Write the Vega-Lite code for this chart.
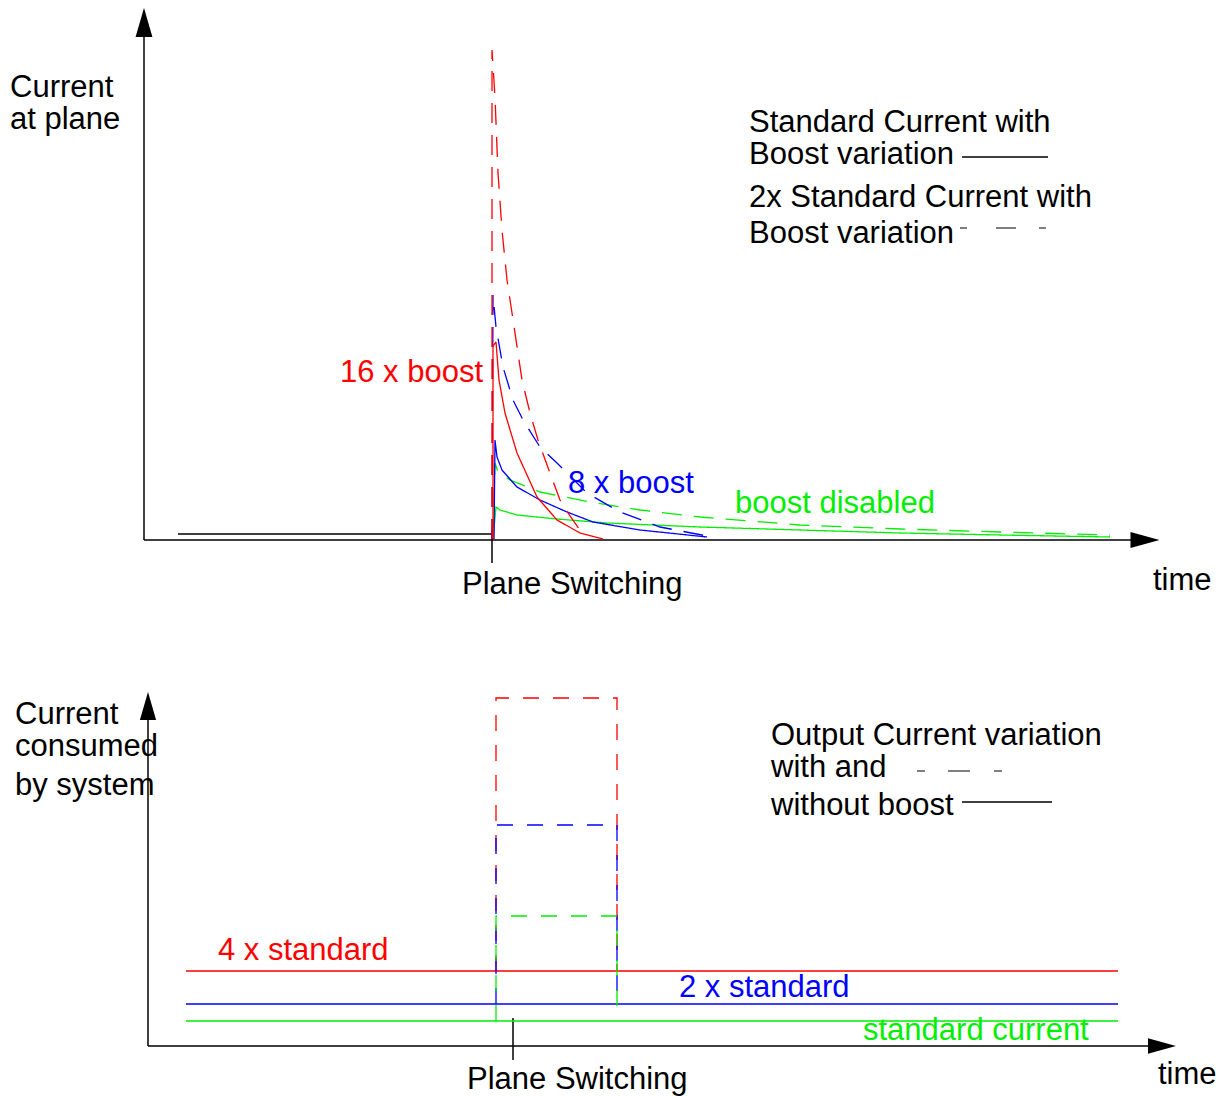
{
  "$schema": "https://vega.github.io/schema/vega-lite/v6.json",
  "padding": 0,
  "spacing": 0,
  "bounds": "flush",
  "config": {"view": {"stroke": null}, "font": "Liberation Sans"},
  "datasets": {
    "topBlack": [
      {"seg": "yaxis", "k": 0, "t": -348, "i": 0}, {"seg": "yaxis", "k": 1, "t": -348, "i": 510},
      {"seg": "xaxis", "k": 0, "t": -348, "i": 0}, {"seg": "xaxis", "k": 1, "t": 643, "i": 0},
      {"seg": "before", "k": 0, "t": -314, "i": 6}, {"seg": "before", "k": 1, "t": 0, "i": 6},
      {"seg": "tick", "k": 0, "t": 0, "i": 10}, {"seg": "tick", "k": 1, "t": 0, "i": -23},
      {"seg": "legend", "k": 0, "t": 470, "i": 383}, {"seg": "legend", "k": 1, "t": 556, "i": 383}
    ],
    "topLegendDash": [
      {"k": 0, "t": 468, "i": 312}, {"k": 1, "t": 554, "i": 312}
    ],
    "topCurves": [
      {"seg": "gd", "series": "boost disabled", "mode": "2x standard current", "k": 0, "t": 1, "i": 1},
      {"seg": "gd", "series": "boost disabled", "mode": "2x standard current", "k": 1, "t": 3, "i": 77},
      {"seg": "gd", "series": "boost disabled", "mode": "2x standard current", "k": 2, "t": 6, "i": 68},
      {"seg": "gd", "series": "boost disabled", "mode": "2x standard current", "k": 3, "t": 18, "i": 60},
      {"seg": "gd", "series": "boost disabled", "mode": "2x standard current", "k": 4, "t": 48, "i": 48},
      {"seg": "gd", "series": "boost disabled", "mode": "2x standard current", "k": 5, "t": 98, "i": 38},
      {"seg": "gd", "series": "boost disabled", "mode": "2x standard current", "k": 6, "t": 148, "i": 30},
      {"seg": "gd", "series": "boost disabled", "mode": "2x standard current", "k": 7, "t": 208, "i": 23},
      {"seg": "gd", "series": "boost disabled", "mode": "2x standard current", "k": 8, "t": 308, "i": 15},
      {"seg": "gd", "series": "boost disabled", "mode": "2x standard current", "k": 9, "t": 408, "i": 11},
      {"seg": "gd", "series": "boost disabled", "mode": "2x standard current", "k": 10, "t": 508, "i": 8},
      {"seg": "gd", "series": "boost disabled", "mode": "2x standard current", "k": 11, "t": 618, "i": 5},
      {"seg": "gs", "series": "boost disabled", "mode": "standard current", "k": 0, "t": 1, "i": 1},
      {"seg": "gs", "series": "boost disabled", "mode": "standard current", "k": 1, "t": 4, "i": 33},
      {"seg": "gs", "series": "boost disabled", "mode": "standard current", "k": 2, "t": 8, "i": 30},
      {"seg": "gs", "series": "boost disabled", "mode": "standard current", "k": 3, "t": 25, "i": 25},
      {"seg": "gs", "series": "boost disabled", "mode": "standard current", "k": 4, "t": 65, "i": 21},
      {"seg": "gs", "series": "boost disabled", "mode": "standard current", "k": 5, "t": 115, "i": 17},
      {"seg": "gs", "series": "boost disabled", "mode": "standard current", "k": 6, "t": 208, "i": 13},
      {"seg": "gs", "series": "boost disabled", "mode": "standard current", "k": 7, "t": 308, "i": 10},
      {"seg": "gs", "series": "boost disabled", "mode": "standard current", "k": 8, "t": 408, "i": 7},
      {"seg": "gs", "series": "boost disabled", "mode": "standard current", "k": 9, "t": 508, "i": 5},
      {"seg": "gs", "series": "boost disabled", "mode": "standard current", "k": 10, "t": 618, "i": 3},
      {"seg": "bd", "series": "8x boost", "mode": "2x standard current", "k": 0, "t": 0, "i": 1},
      {"seg": "bd", "series": "8x boost", "mode": "2x standard current", "k": 1, "t": 1, "i": 245},
      {"seg": "bd", "series": "8x boost", "mode": "2x standard current", "k": 2, "t": 4, "i": 213},
      {"seg": "bd", "series": "8x boost", "mode": "2x standard current", "k": 3, "t": 11, "i": 173},
      {"seg": "bd", "series": "8x boost", "mode": "2x standard current", "k": 4, "t": 21, "i": 140},
      {"seg": "bd", "series": "8x boost", "mode": "2x standard current", "k": 5, "t": 31, "i": 120},
      {"seg": "bd", "series": "8x boost", "mode": "2x standard current", "k": 6, "t": 48, "i": 93},
      {"seg": "bd", "series": "8x boost", "mode": "2x standard current", "k": 7, "t": 65, "i": 77},
      {"seg": "bd", "series": "8x boost", "mode": "2x standard current", "k": 8, "t": 95, "i": 47},
      {"seg": "bd", "series": "8x boost", "mode": "2x standard current", "k": 9, "t": 128, "i": 28},
      {"seg": "bd", "series": "8x boost", "mode": "2x standard current", "k": 10, "t": 168, "i": 13},
      {"seg": "bd", "series": "8x boost", "mode": "2x standard current", "k": 11, "t": 215, "i": 4},
      {"seg": "bs", "series": "8x boost", "mode": "standard current", "k": 0, "t": 2, "i": 1},
      {"seg": "bs", "series": "8x boost", "mode": "standard current", "k": 1, "t": 3, "i": 100},
      {"seg": "bs", "series": "8x boost", "mode": "standard current", "k": 2, "t": 5, "i": 83},
      {"seg": "bs", "series": "8x boost", "mode": "standard current", "k": 3, "t": 10, "i": 70},
      {"seg": "bs", "series": "8x boost", "mode": "standard current", "k": 4, "t": 25, "i": 53},
      {"seg": "bs", "series": "8x boost", "mode": "standard current", "k": 5, "t": 48, "i": 40},
      {"seg": "bs", "series": "8x boost", "mode": "standard current", "k": 6, "t": 75, "i": 28},
      {"seg": "bs", "series": "8x boost", "mode": "standard current", "k": 7, "t": 101, "i": 18},
      {"seg": "bs", "series": "8x boost", "mode": "standard current", "k": 8, "t": 148, "i": 10},
      {"seg": "bs", "series": "8x boost", "mode": "standard current", "k": 9, "t": 215, "i": 3},
      {"seg": "rd", "series": "16x boost", "mode": "2x standard current", "k": 0, "t": 0, "i": 1},
      {"seg": "rd", "series": "16x boost", "mode": "2x standard current", "k": 1, "t": 0, "i": 490},
      {"seg": "rd", "series": "16x boost", "mode": "2x standard current", "k": 2, "t": 3, "i": 443},
      {"seg": "rd", "series": "16x boost", "mode": "2x standard current", "k": 3, "t": 6, "i": 367},
      {"seg": "rd", "series": "16x boost", "mode": "2x standard current", "k": 4, "t": 10, "i": 310},
      {"seg": "rd", "series": "16x boost", "mode": "2x standard current", "k": 5, "t": 15, "i": 260},
      {"seg": "rd", "series": "16x boost", "mode": "2x standard current", "k": 6, "t": 20, "i": 227},
      {"seg": "rd", "series": "16x boost", "mode": "2x standard current", "k": 7, "t": 30, "i": 160},
      {"seg": "rd", "series": "16x boost", "mode": "2x standard current", "k": 8, "t": 38, "i": 127},
      {"seg": "rd", "series": "16x boost", "mode": "2x standard current", "k": 9, "t": 46, "i": 100},
      {"seg": "rd", "series": "16x boost", "mode": "2x standard current", "k": 10, "t": 58, "i": 67},
      {"seg": "rd", "series": "16x boost", "mode": "2x standard current", "k": 11, "t": 68, "i": 40},
      {"seg": "rd", "series": "16x boost", "mode": "2x standard current", "k": 12, "t": 78, "i": 24},
      {"seg": "rd", "series": "16x boost", "mode": "2x standard current", "k": 13, "t": 88, "i": 10},
      {"seg": "rs", "series": "16x boost", "mode": "standard current", "k": 0, "t": 1, "i": 1},
      {"seg": "rs", "series": "16x boost", "mode": "standard current", "k": 1, "t": 1, "i": 194},
      {"seg": "rs", "series": "16x boost", "mode": "standard current", "k": 2, "t": 4, "i": 198},
      {"seg": "rs", "series": "16x boost", "mode": "standard current", "k": 3, "t": 5, "i": 185},
      {"seg": "rs", "series": "16x boost", "mode": "standard current", "k": 4, "t": 7, "i": 160},
      {"seg": "rs", "series": "16x boost", "mode": "standard current", "k": 5, "t": 13, "i": 127},
      {"seg": "rs", "series": "16x boost", "mode": "standard current", "k": 6, "t": 25, "i": 87},
      {"seg": "rs", "series": "16x boost", "mode": "standard current", "k": 7, "t": 45, "i": 43},
      {"seg": "rs", "series": "16x boost", "mode": "standard current", "k": 8, "t": 65, "i": 20},
      {"seg": "rs", "series": "16x boost", "mode": "standard current", "k": 9, "t": 88, "i": 7},
      {"seg": "rs", "series": "16x boost", "mode": "standard current", "k": 10, "t": 111, "i": 1}
    ],
    "topArrows": [
      {"t": -348, "i": 517.5, "dir": "up"},
      {"t": 653, "i": 0, "dir": "right"}
    ],
    "topText": [
      {"text": "Current", "t": -482, "i": 443, "series": "annotation"},
      {"text": "at plane", "t": -482, "i": 411, "series": "annotation"},
      {"text": "Standard Current with", "t": 257, "i": 408, "series": "annotation"},
      {"text": "Boost variation", "t": 257, "i": 376, "series": "annotation"},
      {"text": "2x Standard Current with", "t": 257, "i": 333, "series": "annotation"},
      {"text": "Boost variation", "t": 257, "i": 297, "series": "annotation"},
      {"text": "16 x boost", "t": -152, "i": 158, "series": "16x boost"},
      {"text": "8 x boost", "t": 76, "i": 47, "series": "8x boost"},
      {"text": "boost disabled", "t": 243, "i": 27, "series": "boost disabled"},
      {"text": "Plane Switching", "t": -30, "i": -54, "series": "annotation"},
      {"text": "time", "t": 661, "i": -50, "series": "annotation"}
    ],
    "botBlack": [
      {"seg": "yaxis", "k": 0, "t": -344, "i": 0}, {"seg": "yaxis", "k": 1, "t": -344, "i": 334},
      {"seg": "xaxis", "k": 0, "t": -344, "i": 0}, {"seg": "xaxis", "k": 1, "t": 658, "i": 0},
      {"seg": "tick", "k": 0, "t": 21, "i": 28}, {"seg": "tick", "k": 1, "t": 21, "i": -14},
      {"seg": "legend", "k": 0, "t": 470, "i": 244}, {"seg": "legend", "k": 1, "t": 560, "i": 244}
    ],
    "botLegendDash": [
      {"k": 0, "t": 425, "i": 275}, {"k": 1, "t": 511, "i": 275}
    ],
    "botLines": [
      {"seg": "rs", "series": "4x standard", "mode": "without boost", "k": 0, "t": -306, "i": 75},
      {"seg": "rs", "series": "4x standard", "mode": "without boost", "k": 1, "t": 626, "i": 75},
      {"seg": "bs", "series": "2x standard", "mode": "without boost", "k": 0, "t": -306, "i": 42},
      {"seg": "bs", "series": "2x standard", "mode": "without boost", "k": 1, "t": 626, "i": 42},
      {"seg": "gs", "series": "standard", "mode": "without boost", "k": 0, "t": -306, "i": 25},
      {"seg": "gs", "series": "standard", "mode": "without boost", "k": 1, "t": 626, "i": 25},
      {"seg": "rd", "series": "4x standard", "mode": "with boost", "k": 0, "t": 4, "i": 75},
      {"seg": "rd", "series": "4x standard", "mode": "with boost", "k": 1, "t": 4, "i": 348},
      {"seg": "rd", "series": "4x standard", "mode": "with boost", "k": 2, "t": 125, "i": 348},
      {"seg": "rd", "series": "4x standard", "mode": "with boost", "k": 3, "t": 125, "i": 75},
      {"seg": "bd", "series": "2x standard", "mode": "with boost", "k": 0, "t": 4, "i": 42},
      {"seg": "bd", "series": "2x standard", "mode": "with boost", "k": 1, "t": 4, "i": 221},
      {"seg": "bd", "series": "2x standard", "mode": "with boost", "k": 2, "t": 125, "i": 221},
      {"seg": "bd", "series": "2x standard", "mode": "with boost", "k": 3, "t": 125, "i": 42},
      {"seg": "gd", "series": "standard", "mode": "with boost", "k": 0, "t": 4, "i": 25},
      {"seg": "gd", "series": "standard", "mode": "with boost", "k": 1, "t": 4, "i": 130},
      {"seg": "gd", "series": "standard", "mode": "with boost", "k": 2, "t": 125, "i": 130},
      {"seg": "gd", "series": "standard", "mode": "with boost", "k": 3, "t": 125, "i": 34}
    ],
    "botArrows": [
      {"t": -344, "i": 340, "dir": "up"},
      {"t": 670, "i": 0, "dir": "right"}
    ],
    "botText": [
      {"text": "Current", "t": -477, "i": 322, "series": "annotation"},
      {"text": "consumed", "t": -477, "i": 290, "series": "annotation"},
      {"text": "by system", "t": -477, "i": 251, "series": "annotation"},
      {"text": "Output Current variation", "t": 279, "i": 301, "series": "annotation"},
      {"text": "with and", "t": 279, "i": 269, "series": "annotation"},
      {"text": "without boost", "t": 279, "i": 231, "series": "annotation"},
      {"text": "4 x standard", "t": -274, "i": 86, "series": "4x standard"},
      {"text": "2 x standard", "t": 187, "i": 49, "series": "2x standard"},
      {"text": "standard current", "t": 371, "i": 6, "series": "standard"},
      {"text": "Plane Switching", "t": -25, "i": -43, "series": "annotation"},
      {"text": "time", "t": 666, "i": -38, "series": "annotation"}
    ]
  },
  "vconcat": [
    {
      "width": 1220,
      "height": 600,
      "encoding": {
        "x": {"field": "t", "type": "quantitative", "scale": {"domain": [-492, 728], "nice": false, "zero": false}, "axis": null},
        "y": {"field": "i", "type": "quantitative", "scale": {"domain": [-60, 540], "nice": false, "zero": false}, "axis": null}
      },
      "layer": [
        {
          "data": {"name": "topBlack"},
          "mark": {"type": "line", "color": "#000000", "strokeWidth": 1.5},
          "encoding": {"detail": {"field": "seg"}, "order": {"field": "k"}}
        },
        {
          "data": {"name": "topLegendDash"},
          "mark": {"type": "line", "color": "#000000", "strokeWidth": 1.2, "strokeDash": [7, 29, 20, 23]},
          "encoding": {"order": {"field": "k"}}
        },
        {
          "data": {"name": "topCurves"},
          "mark": {"type": "line", "strokeWidth": 1.3},
          "encoding": {
            "detail": {"field": "seg"},
            "order": {"field": "k"},
            "color": {"field": "series", "type": "nominal", "legend": null,
              "scale": {"domain": ["16x boost", "8x boost", "boost disabled", "4x standard", "2x standard", "standard", "annotation"],
                        "range": ["#ff0000", "#0000ff", "#00ee00", "#ff0000", "#0000ff", "#00ee00", "#000000"]}},
            "strokeDash": {"field": "mode", "type": "nominal", "legend": null,
              "scale": {"domain": ["standard current", "2x standard current", "without boost", "with boost"],
                        "range": [[1, 0], [20, 12], [1, 0], [16, 14]]}}
          }
        },
        {
          "data": {"name": "topArrows"},
          "mark": {"type": "point", "filled": true, "color": "#000000", "opacity": 1, "strokeWidth": 0, "size": 841},
          "encoding": {
            "shape": {"field": "dir", "type": "nominal", "legend": null,
              "scale": {"domain": ["up", "right"], "range": ["M0,-1L0.58,1L-0.58,1Z", "M1,0L-1,-0.55L-1,0.55Z"]}}
          }
        },
        {
          "data": {"name": "topText"},
          "mark": {"type": "text", "align": "left", "baseline": "alphabetic", "fontSize": 31, "font": "Liberation Sans"},
          "encoding": {
            "text": {"field": "text"},
            "color": {"field": "series", "type": "nominal", "legend": null,
              "scale": {"domain": ["16x boost", "8x boost", "boost disabled", "4x standard", "2x standard", "standard", "annotation"],
                        "range": ["#ff0000", "#0000ff", "#00ee00", "#ff0000", "#0000ff", "#00ee00", "#000000"]}}
          }
        }
      ]
    },
    {
      "width": 1220,
      "height": 496,
      "encoding": {
        "x": {"field": "t", "type": "quantitative", "scale": {"domain": [-492, 728], "nice": false, "zero": false}, "axis": null},
        "y": {"field": "i", "type": "quantitative", "scale": {"domain": [-50, 446], "nice": false, "zero": false}, "axis": null}
      },
      "resolve": {"scale": {"y": "independent"}},
      "layer": [
        {
          "data": {"name": "botBlack"},
          "mark": {"type": "line", "color": "#000000", "strokeWidth": 1.5},
          "encoding": {"detail": {"field": "seg"}, "order": {"field": "k"}}
        },
        {
          "data": {"name": "botLegendDash"},
          "mark": {"type": "line", "color": "#000000", "strokeWidth": 1.2, "strokeDash": [8, 23, 22, 24]},
          "encoding": {"order": {"field": "k"}}
        },
        {
          "data": {"name": "botLines"},
          "mark": {"type": "line", "strokeWidth": 1.3},
          "encoding": {
            "detail": {"field": "seg"},
            "order": {"field": "k"},
            "color": {"field": "series", "type": "nominal", "legend": null,
              "scale": {"domain": ["16x boost", "8x boost", "boost disabled", "4x standard", "2x standard", "standard", "annotation"],
                        "range": ["#ff0000", "#0000ff", "#00ee00", "#ff0000", "#0000ff", "#00ee00", "#000000"]}},
            "strokeDash": {"field": "mode", "type": "nominal", "legend": null,
              "scale": {"domain": ["standard current", "2x standard current", "without boost", "with boost"],
                        "range": [[1, 0], [20, 12], [1, 0], [16, 14]]}}
          }
        },
        {
          "data": {"name": "botArrows"},
          "mark": {"type": "point", "filled": true, "color": "#000000", "opacity": 1, "strokeWidth": 0, "size": 784},
          "encoding": {
            "shape": {"field": "dir", "type": "nominal", "legend": null,
              "scale": {"domain": ["up", "right"], "range": ["M0,-1L0.6,1L-0.6,1Z", "M1,0L-1,-0.57L-1,0.57Z"]}}
          }
        },
        {
          "data": {"name": "botText"},
          "mark": {"type": "text", "align": "left", "baseline": "alphabetic", "fontSize": 31, "font": "Liberation Sans"},
          "encoding": {
            "text": {"field": "text"},
            "color": {"field": "series", "type": "nominal", "legend": null,
              "scale": {"domain": ["16x boost", "8x boost", "boost disabled", "4x standard", "2x standard", "standard", "annotation"],
                        "range": ["#ff0000", "#0000ff", "#00ee00", "#ff0000", "#0000ff", "#00ee00", "#000000"]}}
          }
        }
      ]
    }
  ],
  "resolve": {"scale": {"y": "independent", "x": "independent"}}
}
